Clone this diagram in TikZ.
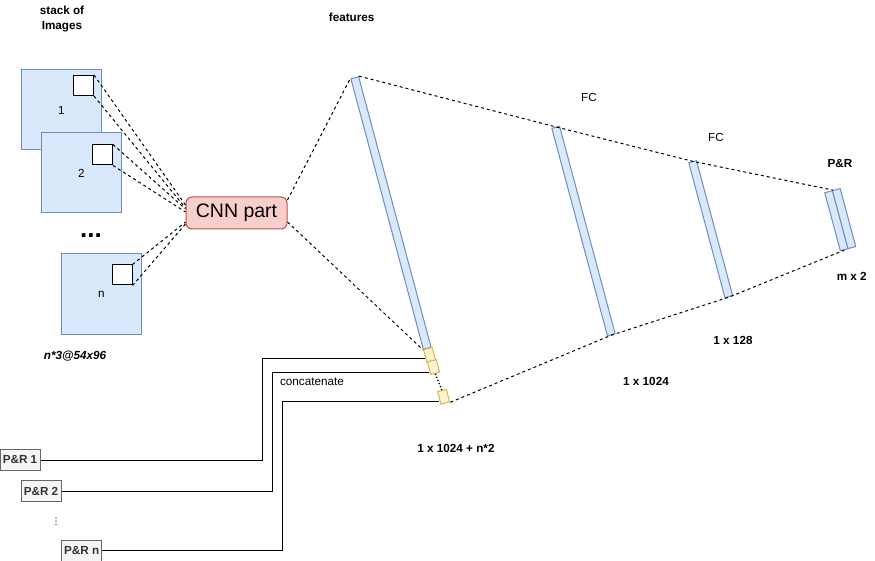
\documentclass[tikz,border=0pt]{standalone}
\usepackage{fontspec}
\setmainfont{Liberation Sans}
\newfontfamily\symfont{DejaVu Sans}
\usetikzlibrary{calc}
\definecolor{imgfill}{HTML}{DAE8FC}
\definecolor{imgdraw}{HTML}{6C8EBF}
\definecolor{cnnfill}{HTML}{F8CECC}
\definecolor{cnndraw}{HTML}{B85450}
\definecolor{catfill}{HTML}{FFF2CC}
\definecolor{catdraw}{HTML}{D6B656}
\definecolor{prfill}{HTML}{F5F5F5}
\definecolor{prdraw}{HTML}{666666}
\definecolor{prtext}{HTML}{333333}
\newcommand{\barwd}{8pt}
\newcommand{\txt}{\fontsize{11.7}{15}\selectfont}
\tikzset{
  img/.style={draw=imgdraw, fill=imgfill, minimum size=80pt, inner sep=0pt, font=\txt},
  patch/.style={draw, fill=white, minimum size=20pt, inner sep=0pt},
  layer/.style={draw=imgdraw, fill=imgfill, minimum width=\barwd, inner sep=0pt, rotate=15},
  catbox/.style={draw=catdraw, fill=catfill, minimum width=9pt, minimum height=13pt, inner sep=0pt, rotate=15},
  prbox/.style={draw=prdraw, fill=prfill, text=prtext, font=\txt\bfseries, minimum width=40pt, minimum height=21pt, inner sep=0pt},
  link/.style={dash pattern=on 3pt off 3pt},
  lbl/.style={font=\txt\bfseries, align=center},
}

\begin{document}
\begin{tikzpicture}[x=1pt, y=-1pt, line width=1pt]
      \useasboundingbox (0,0) rectangle (875,561);
          % stack of images
      \node[lbl] (stacklbl) at (62,19.5) {stack of\\Images};
      \node[img] (im1) at (61.5,110) {1};
      \node[patch] (p1) at (83.5,85.5) {};
      \node[img] (im2) at (81.5,173) {2};
      \node[patch] (p2) at (102.5,155) {};
      \node[font=\fontsize{26}{26}\selectfont\bfseries, anchor=base] (imdots) at (91,238) {...};
      \node[img] (imn) at (101.5,294) {n};
      \node[patch] (pn) at (122,275) {};
      \node[font=\txt\bfseries\itshape] (imsize) at (75,356.5) {n*3@54x96};

          % CNN
      \node[draw=cnndraw, fill=cnnfill, rounded corners=6pt, minimum width=101pt, minimum height=32pt, font=\fontsize{19.5}{20}\selectfont] (cnn) at (236.5,213) {CNN part};
      \draw[link] (p1.north east) -- ($(cnn.west)+(0,-8)$);
      \draw[link] (p1.south east) -- ($(cnn.west)+(0,-5)$);
      \draw[link] (p2.north east) -- ($(cnn.west)+(0,-4)$);
      \draw[link] (p2.south east) -- ($(cnn.west)+(0,-1)$);
      \draw[link] (pn.north east) -- ($(cnn.west)+(0,9)$);
      \draw[link] (pn.south east) -- ($(cnn.west)+(0,11)$);

          % features + concatenated P&R
      \node[layer, minimum height=280pt] (feat) at (391,213) {};
      \node[catbox] (cat1) at (429.5,354.8) {};
      \node[catbox] (cat2) at (433.5,367) {};
      \node[catbox] (cat3) at (443.7,396.8) {};
      \draw[dotted, line width=1.3pt] (cat2.south) -- (cat3.north);
      \draw[link] ($(cnn.east)+(0,-13)$) -- (feat.north west);
      \draw[link] ($(cnn.east)+(0,9)$) -- (feat.south west);

          % FC layers and output
      \node[layer, minimum height=214.7pt] (fc1) at (583.5,231) {};
      \node[layer, minimum height=139.7pt] (fc2) at (710.7,229.2) {};
      \node[layer, minimum height=60pt] (prl) at (836.4,220.7) {};
      \node[layer, minimum height=60pt] (prr) at (844.1,218.6) {};
      \draw[link] (feat.north east) -- (fc1.north) -- (fc2.north) -- (prl.north east);
      \draw[link] (cat3.south east) -- (fc1.south) -- (fc2.south) -- (prl.south);

      \node[lbl] (featlbl) at (351.7,17) {features};
      \node[font=\txt] (fc1lbl) at (589,97.5) {FC};
      \node[font=\txt] (fc2lbl) at (716,137) {FC};
      \node[lbl] (prlbl) at (840,164) {P\&R};
      \node[lbl] (prsize) at (851.7,276) {m x 2};
      \node[lbl] (fc2size) at (733,340) {1 x 128};
      \node[lbl] (fc1size) at (646,381) {1 x 1024};
      \node[lbl] (featsize) at (456,448) {1 x 1024 + n*2};
      \node[font=\txt] (catlbl) at (312,381.7) {concatenate};

          % P&R inputs
      \node[prbox] (pr1) at (20,460) {P\&R 1};
      \node[prbox] (pr2) at (41,491.3) {P\&R 2};
      \node[prbox] (prn) at (81.7,550.5) {P\&R n};
      \node[font=\symfont\fontsize{9}{9}\selectfont] (prdots) at (56,522) {⋮};
      \coordinate (k1) at (262,358);
      \coordinate (k2) at (272,372);
      \coordinate (kn) at (282,401);
      \draw (pr1.east) -| (k1) -- (k1 -| cat1.west);
      \draw (pr2.east) -| (k2) -- (k2 -| cat2.west);
      \draw (prn.east) -| (kn) -- (kn -| cat3.west);
        \end{tikzpicture}
\end{document}
